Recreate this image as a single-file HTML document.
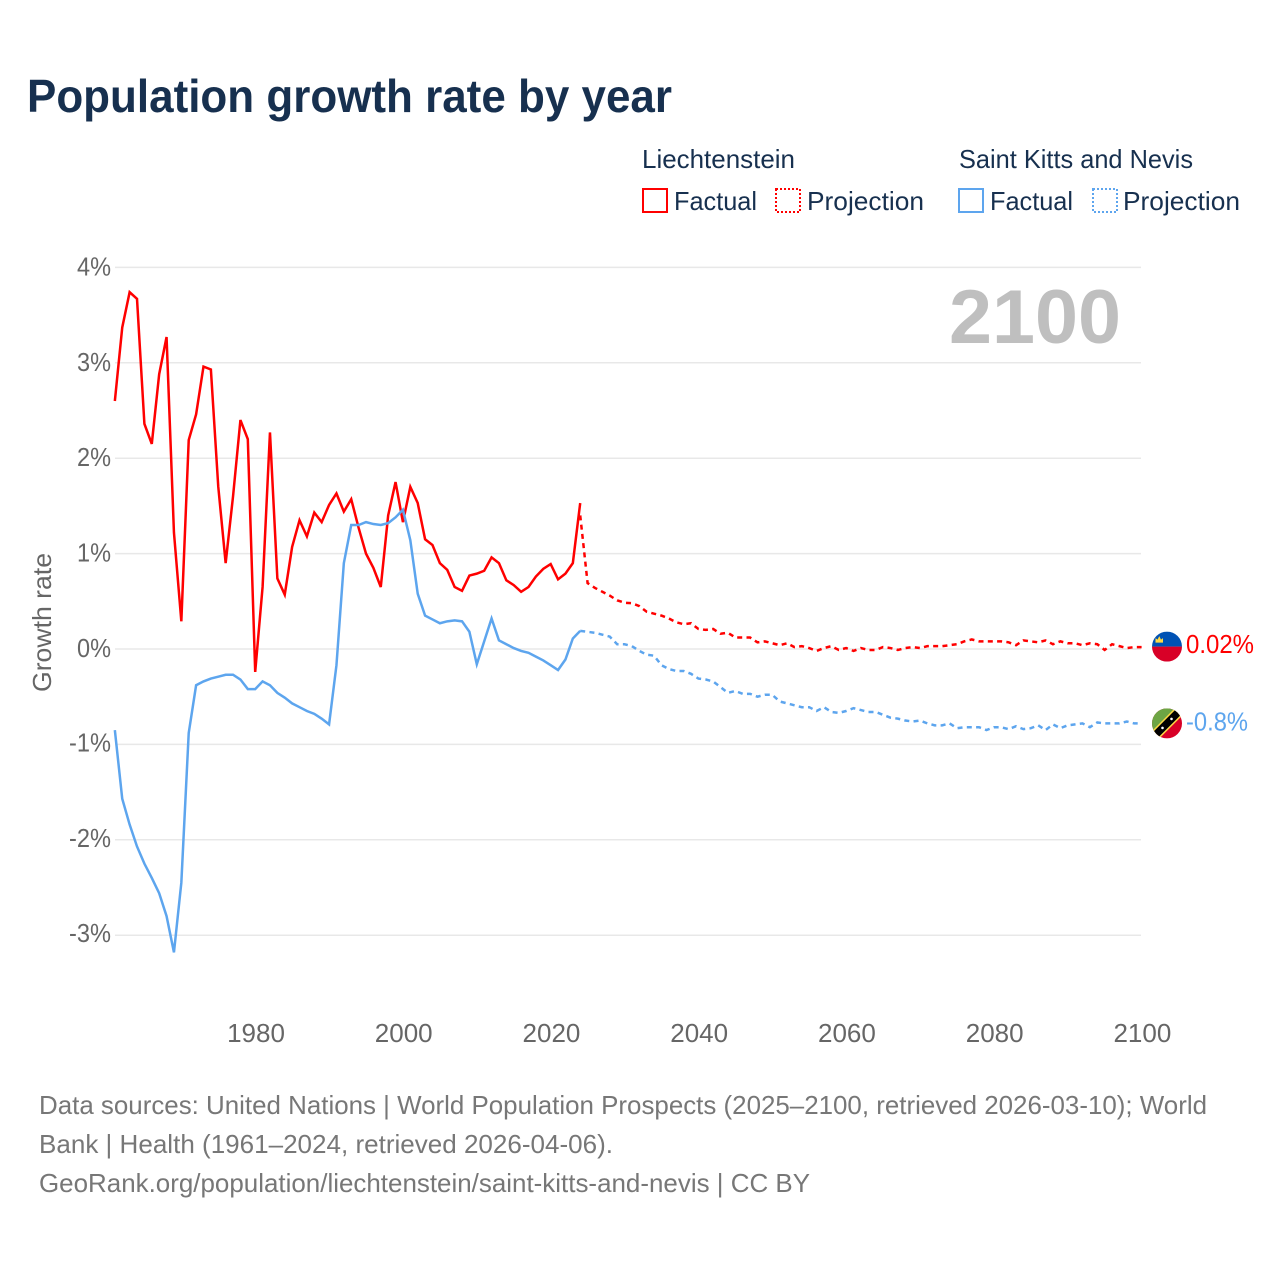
<!DOCTYPE html>
<html lang="en">
<head>
<meta charset="utf-8">
<title>Population growth rate by year</title>
<style>
html,body{margin:0;padding:0;background:#fff;width:1280px;height:1280px;overflow:hidden}
svg{display:block}
text{font-family:"Liberation Sans",Arial,sans-serif}
</style>
</head>
<body>
<svg id="chart" xmlns="http://www.w3.org/2000/svg" width="1280" height="1280" viewBox="0 0 1280 1280">
  <defs>
    <clipPath id="flag-clip"><circle cx="0" cy="0" r="15"></circle></clipPath>
  </defs>
  <rect x="0" y="0" width="1280" height="1280" fill="#ffffff"></rect>
  <text x="27" y="112" font-size="46" font-weight="700" fill="#17304f" textLength="645" lengthAdjust="spacingAndGlyphs">Population growth rate by year</text>

  <g font-size="26" fill="#17304f">
    <text x="642" y="168" textLength="153" lengthAdjust="spacingAndGlyphs">Liechtenstein</text>
    <text x="959" y="168" textLength="234" lengthAdjust="spacingAndGlyphs">Saint Kitts and Nevis</text>
    <rect x="643" y="189" width="24" height="23" fill="none" stroke="#ff0000" stroke-width="2"></rect>
    <text x="674" y="210" textLength="83" lengthAdjust="spacingAndGlyphs">Factual</text>
    <rect x="776" y="189" width="24" height="23" fill="none" stroke="#ff0000" stroke-width="2" stroke-dasharray="2 2"></rect>
    <text x="807" y="210" textLength="117" lengthAdjust="spacingAndGlyphs">Projection</text>
    <rect x="959" y="189" width="24" height="23" fill="none" stroke="#5da5ee" stroke-width="2"></rect>
    <text x="990" y="210" textLength="83" lengthAdjust="spacingAndGlyphs">Factual</text>
    <rect x="1093" y="189" width="24" height="23" fill="none" stroke="#5da5ee" stroke-width="2" stroke-dasharray="2 2"></rect>
    <text x="1123" y="210" textLength="117" lengthAdjust="spacingAndGlyphs">Projection</text>
  </g>

  <g id="grid"></g>
  <g id="y-ticks"></g>
  <g id="x-ticks"></g>
  <text transform="translate(51,692) rotate(-90)" font-size="26" fill="#666666" textLength="139" lengthAdjust="spacingAndGlyphs">Growth rate</text>
  <text x="949" y="343" font-size="76" font-weight="700" fill="#bfbfbf" textLength="172" lengthAdjust="spacingAndGlyphs">2100</text>
  <g id="series"></g>

  <g id="flag-li" clip-path="url(#flag-clip)">
    <rect x="-15" y="-15" width="30" height="15" fill="#0052b4"></rect>
    <rect x="-15" y="0" width="30" height="15" fill="#d80027"></rect>
    <path d="M-11.500-4V-8.500L-9.500-7-7.700-10.500-6-7-4-8.500V-4Z" fill="#ffda44"></path>
  </g>
  <g id="flag-kn" clip-path="url(#flag-clip)">
    <rect x="-15" y="-15" width="30" height="30" fill="#d80027"></rect>
    <path d="M-15-15H15L-15 15Z" fill="#6da544"></path>
    <line x1="-15" y1="15" x2="15" y2="-15" stroke="#ffda44" stroke-width="10.500"></line>
    <line x1="-15" y1="15" x2="15" y2="-15" stroke="#000000" stroke-width="7.500"></line>
    <circle cx="-4.500" cy="4.500" r="1.300" fill="#ffffff"></circle>
    <circle cx="4.500" cy="-4.500" r="1.300" fill="#ffffff"></circle>
  </g>
  <text id="end-li" x="1186" font-size="26" fill="#ff0000" textLength="68" lengthAdjust="spacingAndGlyphs"></text>
  <text id="end-kn" x="1186" font-size="26" fill="#5da5ee" textLength="62" lengthAdjust="spacingAndGlyphs"></text>

  <g font-size="26" fill="#777777">
    <text x="39" y="1114" textLength="1168" lengthAdjust="spacingAndGlyphs">Data sources: United Nations | World Population Prospects (2025–2100, retrieved 2026-03-10); World</text>
    <text x="39" y="1153" textLength="574" lengthAdjust="spacingAndGlyphs">Bank | Health (1961–2024, retrieved 2026-04-06).</text>
    <text x="39" y="1192" textLength="771" lengthAdjust="spacingAndGlyphs">GeoRank.org/population/liechtenstein/saint-kitts-and-nevis | CC BY</text>
  </g>
</svg>
<script>
const factualStartYear = [1961];
const projectionStartYear = [2024];
const xTickYears = [1980, 2000, 2020, 2040, 2060, 2080, 2100];
const yTickValues = [4, 3, 2, 1, 0, -1, -2, -3];
const yTickLabels = ['4%', '3%', '2%', '1%', '0%', '-1%', '-2%', '-3%'];
const endValueLabels = ['0.02%', '-0.8%'];

const liechtensteinFactual = [
  2.60, 3.37, 3.74, 3.67, 2.36, 2.15, 2.88, 3.27, 1.22, 0.29,
  2.19, 2.46, 2.96, 2.93, 1.70, 0.90, 1.60, 2.40, 2.20, -0.24,
  0.65, 2.27, 0.74, 0.57, 1.07, 1.35, 1.18, 1.43, 1.33, 1.51,
  1.63, 1.44, 1.57, 1.27, 1.00, 0.85, 0.65, 1.40, 1.75, 1.33,
  1.70, 1.53, 1.15, 1.09, 0.90, 0.83, 0.65, 0.61, 0.77, 0.79,
  0.82, 0.96, 0.90, 0.72, 0.67, 0.60, 0.65, 0.76, 0.84, 0.89,
  0.73, 0.79, 0.90, 1.53
];
const liechtensteinProjection = [
  1.40, 0.69, 0.64, 0.60, 0.56, 0.51, 0.485, 0.48, 0.45, 0.39,
  0.37, 0.35, 0.32, 0.28, 0.26, 0.27, 0.21, 0.20, 0.21, 0.16,
  0.17, 0.12, 0.12, 0.12, 0.07, 0.08, 0.06, 0.04, 0.06, 0.02,
  0.03, 0.01, -0.02, 0.01, 0.03, -0.01, 0.01, -0.02, 0.01, -0.01,
  -0.01, 0.02, 0.01, -0.01, 0.01, 0.02, 0.01, 0.03, 0.03, 0.03,
  0.04, 0.05, 0.08, 0.10, 0.08, 0.08, 0.08, 0.08, 0.07, 0.04,
  0.09, 0.08, 0.07, 0.09, 0.05, 0.08, 0.06, 0.06, 0.04, 0.06,
  0.05, -0.01, 0.05, 0.03, 0.01, 0.02, 0.02
];
const kittsFactual = [
  -0.85, -1.57, -1.84, -2.07, -2.25, -2.40, -2.56, -2.80, -3.18, -2.45,
  -0.88, -0.38, -0.34, -0.31, -0.29, -0.27, -0.27, -0.32, -0.42, -0.42,
  -0.34, -0.38, -0.46, -0.51, -0.57, -0.61, -0.65, -0.68, -0.73, -0.79,
  -0.17, 0.90, 1.30, 1.30, 1.33, 1.31, 1.30, 1.32, 1.38, 1.46,
  1.14, 0.58, 0.35, 0.31, 0.27, 0.29, 0.30, 0.29, 0.18, -0.16,
  0.08, 0.32, 0.09, 0.05, 0.01, -0.02, -0.04, -0.08, -0.12, -0.17,
  -0.22, -0.11, 0.11, 0.19
];
const kittsProjection = [
  0.19, 0.18, 0.17, 0.15, 0.13, 0.05, 0.05, 0.03, -0.02, -0.06,
  -0.07, -0.17, -0.21, -0.23, -0.23, -0.26, -0.31, -0.32, -0.34, -0.40,
  -0.46, -0.44, -0.47, -0.47, -0.50, -0.48, -0.48, -0.55, -0.57, -0.59,
  -0.61, -0.61, -0.65, -0.61, -0.66, -0.67, -0.65, -0.62, -0.64, -0.66,
  -0.66, -0.69, -0.72, -0.73, -0.75, -0.76, -0.75, -0.78, -0.80, -0.80,
  -0.78, -0.83, -0.82, -0.82, -0.82, -0.85, -0.82, -0.82, -0.84, -0.81,
  -0.84, -0.83, -0.80, -0.85, -0.79, -0.83, -0.80, -0.79, -0.78, -0.82,
  -0.77, -0.78, -0.78, -0.78, -0.76, -0.78, -0.78
];

const SVG_NS = 'http://www.w3.org/2000/svg';
function xScale(year) { return 255.2 + (year - 1980) * (1141.6 - 255.2) / 120; }
function yScale(value) { return 649 - value * 95.4; }

function make(tag, parentId) {
  const el = document.createElementNS(SVG_NS, tag);
  document.getElementById(parentId).appendChild(el);
  return el;
}

function linePath(values, startYear) {
  return values.map(function (v, i) {
    return (i ? 'L' : 'M') + xScale(startYear + i).toFixed(2) + ' ' + yScale(v).toFixed(2);
  }).join('');
}

yTickValues.forEach(function (v, i) {
  const line = make('line', 'grid');
  
  
  line.setAttribute('x1', 115);
  line.setAttribute('x2', 1141);
  line.setAttribute('y1', yScale(v));
  line.setAttribute('y2', yScale(v));
  line.setAttribute('stroke', '#e8e8e8');
  line.setAttribute('stroke-width', '1.5');

  const label = make('text', 'y-ticks');
  
  
  label.setAttribute('x', 111);
  label.setAttribute('y', yScale(v) + 8 + (v < 0 ? -1 : 0));
  label.setAttribute('text-anchor', 'end');
  label.setAttribute('font-size', '26');
  label.setAttribute('fill', '#666666');
  label.setAttribute('textLength', v < 0 ? '42' : '34');
  label.setAttribute('lengthAdjust', 'spacingAndGlyphs');
  label.textContent = yTickLabels[i];
});

xTickYears.forEach(function (year) {
  const label = make('text', 'x-ticks');
  
  
  label.setAttribute('x', xScale(year) + 0.8);
  label.setAttribute('y', 1042);
  label.setAttribute('text-anchor', 'middle');
  label.setAttribute('font-size', '26');
  label.setAttribute('fill', '#666666');
  label.textContent = String(year);
});

function drawSeries(values, startYear, color, dashed, name) {
  const path = make('path', 'series');
  
  
  path.setAttribute('d', linePath(values, startYear));
  path.setAttribute('fill', 'none');
  path.setAttribute('stroke', color);
  path.setAttribute('stroke-width', '2.5');
  if (dashed) {
    path.setAttribute('stroke-dasharray', '5 4.300');
  }
}

drawSeries(liechtensteinProjection, projectionStartYear[0], '#ff0000', true, 'line-liechtenstein-projection');
drawSeries(liechtensteinFactual, factualStartYear[0], '#ff0000', false, 'line-liechtenstein-factual');
drawSeries(kittsProjection, projectionStartYear[0], '#5da5ee', true, 'line-saint-kitts-projection');
drawSeries(kittsFactual, factualStartYear[0], '#5da5ee', false, 'line-saint-kitts-factual');

const liLast = liechtensteinProjection[liechtensteinProjection.length - 1];
const knLast = kittsProjection[kittsProjection.length - 1];
document.getElementById('flag-li').setAttribute('transform', 'translate(1167,' + (yScale(liLast) - 0.5) + ')');
document.getElementById('flag-kn').setAttribute('transform', 'translate(1167,' + (yScale(knLast)) + ')');
const endLi = document.getElementById('end-li');
endLi.setAttribute('y', yScale(liLast) + 6);
endLi.textContent = endValueLabels[0];
const endKn = document.getElementById('end-kn');
endKn.setAttribute('y', yScale(knLast) + 7);
endKn.textContent = endValueLabels[1];
</script>
</body>
</html>
